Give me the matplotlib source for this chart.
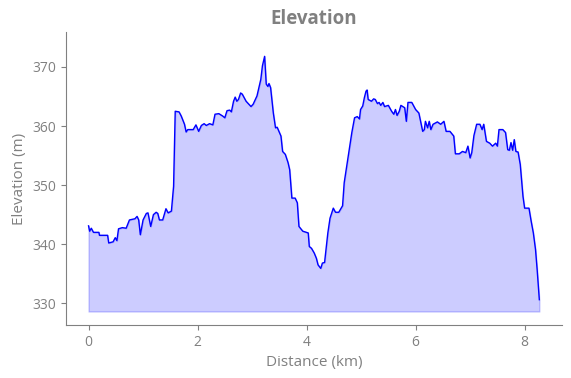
import matplotlib
matplotlib.use("Agg")
import matplotlib.pyplot as plt

plt.rcParams['font.family'] = ['Open Sans', 'DejaVu Sans']

distance_km = [0, 0.02, 0.05, 0.09, 0.19, 0.2, 0.35, 0.37, 0.45, 0.49, 0.52, 0.55, 0.62, 0.69, 0.75,
               0.85, 0.89, 0.92, 0.95, 1.0, 1.06, 1.09, 1.14, 1.19, 1.24, 1.27, 1.30, 1.36, 1.42, 1.46,
               1.52, 1.56, 1.59, 1.66, 1.70, 1.76, 1.79, 1.82, 1.92, 1.97, 2.02, 2.07, 2.12, 2.16, 2.22,
               2.28, 2.32, 2.39, 2.46, 2.50, 2.54, 2.59, 2.62, 2.66, 2.69, 2.72, 2.75, 2.79, 2.82, 2.89,
               2.98, 3.02, 3.09, 3.13, 3.16, 3.19, 3.23, 3.26, 3.29, 3.31, 3.34, 3.39, 3.43, 3.46, 3.53,
               3.56, 3.61, 3.66, 3.69, 3.73, 3.79, 3.83, 3.86, 3.93, 4.03, 4.05, 4.09, 4.14, 4.18, 4.21,
               4.26, 4.29, 4.33, 4.39, 4.43, 4.49, 4.53, 4.59, 4.66, 4.69, 4.76, 4.83, 4.88, 4.93, 4.97,
               4.99, 5.03, 5.06, 5.09, 5.11, 5.13, 5.19, 5.23, 5.26, 5.30, 5.33, 5.36, 5.40, 5.43, 5.50,
               5.56, 5.60, 5.63, 5.66, 5.70, 5.73, 5.80, 5.83, 5.86, 5.93, 6.00, 6.06, 6.13, 6.16, 6.18,
               6.22, 6.25, 6.28, 6.32, 6.40, 6.46, 6.52, 6.56, 6.63, 6.70, 6.73, 6.80, 6.86, 6.92, 6.96,
               7.0, 7.03, 7.07, 7.12, 7.18, 7.22, 7.25, 7.30, 7.36, 7.41, 7.47, 7.50, 7.53, 7.60, 7.65,
               7.69, 7.72, 7.75, 7.78, 7.81, 7.84, 7.88, 7.92, 7.97, 8.0, 8.08, 8.12, 8.16, 8.20, 8.23,
               8.27]
elevation_m = [343.1, 342.2, 342.7, 342.0, 342.0, 341.5, 341.5, 340.2, 340.4, 341.1, 340.6, 342.6, 342.8, 342.7, 344.1,
               344.3, 344.7, 344.1, 341.6, 344.1, 345.2, 345.3, 343.0, 345.0, 345.4, 345.2, 344.1, 344.1, 346.0, 345.3,
               345.6, 349.8, 362.5, 362.4, 361.7, 360.3, 359.0, 359.4, 359.4, 360.2, 359.1, 360.1, 360.4, 360.1, 360.4,
               360.2, 362.0, 362.1, 361.7, 361.4, 362.6, 362.7, 362.4, 364.2, 364.9, 364.2, 364.5, 365.6, 365.4, 364.2,
               363.3, 363.7, 365.1, 366.7, 367.9, 370.2, 371.8, 367.1, 366.7, 367.2, 366.5, 362.2, 359.7, 359.8, 358.3,
               355.7, 355.2, 353.8, 352.6, 347.8, 347.8, 347.0, 343.0, 342.2, 341.9, 339.6, 339.3, 338.5, 337.6, 336.5,
               335.9, 336.8, 336.9, 341.9, 344.4, 346.1, 345.4, 345.4, 346.5, 350.4, 354.6, 358.9, 361.4, 361.6, 361.2,
               362.8, 363.4, 364.8, 365.9, 366.1, 364.5, 364.2, 364.6, 364.5, 363.8, 364.0, 363.5, 364.0, 363.3, 363.5,
               362.5, 362.0, 362.8, 361.8, 362.5, 363.5, 363.1, 360.8, 364.0, 364.0, 362.8, 362.2, 359.1, 359.4, 360.8,
               359.7, 360.8, 359.4, 360.3, 360.7, 360.3, 360.8, 359.1, 359.1, 358.3, 355.3, 355.3, 355.7, 355.5, 356.6,
               354.6, 355.5, 358.4, 360.3, 360.3, 359.4, 360.3, 357.4, 357.1, 356.6, 357.1, 356.6, 359.4, 359.4, 358.9,
               356.0, 355.9, 357.2, 355.9, 357.7, 355.7, 355.6, 353.5, 348.1, 346.1, 346.1, 343.9, 341.9, 339.1, 335.7,
               330.6]
fill_base = 328.6

gray = '#808080'
fig = plt.figure(figsize=(5.71, 3.78), dpi=100)
ax = fig.add_axes([0.1156, 0.140, 0.8684, 0.775])
ax.fill_between(distance_km, elevation_m, fill_base, color='blue', alpha=0.2, linewidth=1)
ax.plot(distance_km, elevation_m, color='blue', linewidth=1)
ax.set_ylim(326.3, 375.9)
ax.set_yticks([330, 340, 350, 360, 370])
ax.set_xticks([0, 2, 4, 6, 8])
for s in ['top', 'right']:
    ax.spines[s].set_visible(False)
for s in ['left', 'bottom']:
    ax.spines[s].set_color(gray)
ax.tick_params(colors=gray, labelsize=10)
ax.set_xlabel('Distance (km)', color=gray, fontsize=11)
ax.set_ylabel('Elevation (m)', color=gray, fontsize=11)
ax.set_title('Elevation', color=gray, fontsize=13.5, fontweight='bold')
fig.savefig('out.png', dpi=100)
